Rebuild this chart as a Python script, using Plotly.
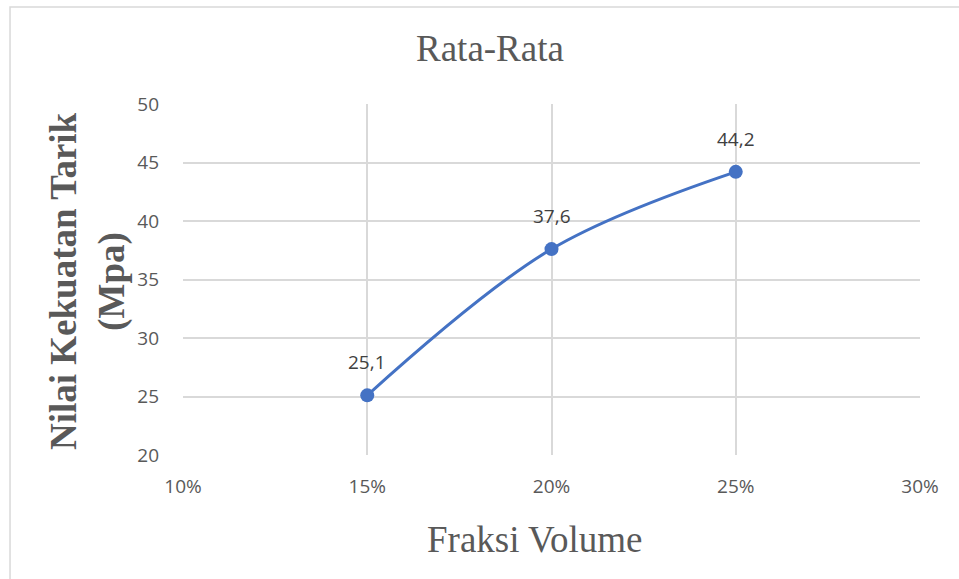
import plotly.graph_objects as go

# Volume fraction (%) vs. average tensile strength (MPa)
fraksi = [15, 20, 25]
kekuatan = [25.1, 37.6, 44.2]
x_ticks = [10, 15, 20, 25, 30]
x_tick_text = ["10%", "15%", "20%", "25%", "30%"]
y_ticks = [20, 25, 30, 35, 40, 45, 50]

BLUE = "#4472C4"
GRAY = "#595959"
GRID = "#D9D9D9"
SERIF = "Liberation Serif, Times New Roman, serif"
SANS = "Open Sans, Liberation Sans, sans-serif"

fig = go.Figure()
fig.add_trace(go.Scatter(
    x=fraksi, y=kekuatan, mode="lines+markers",
    line=dict(color=BLUE, width=3, shape="spline", smoothing=1.0),
    marker=dict(color=BLUE, size=14),
    hoverinfo="x+y", showlegend=False,
))

annotations = []
for xv, yv in zip(fraksi, kekuatan):
    annotations.append(dict(
        x=xv, y=yv, xref="x", yref="y", showarrow=False, yshift=33,
        text=f"{yv:.1f}".replace(".", ","),
        font=dict(family=SANS, size=19, color="#404040"),
    ))

annotations += [
    dict(text="Rata-Rata", xref="paper", yref="paper", x=0.4166, y=1.1595,
         xanchor="center", yanchor="middle", showarrow=False,
         font=dict(family=SERIF, size=37, color=GRAY)),
    dict(text="Fraksi Volume", xref="paper", yref="paper", x=0.4776, y=-0.242,
         xanchor="center", yanchor="middle", showarrow=False,
         font=dict(family=SERIF, size=37, color=GRAY)),
    dict(text="<b>Nilai Kekuatan Tarik<br>(Mpa)</b>", xref="paper", yref="paper",
         x=-0.1289, y=0.4957, xanchor="center", yanchor="middle",
         showarrow=False, textangle=-90,
         font=dict(family=SERIF, size=37, color=GRAY)),
]

fig.update_layout(
    width=959, height=579,
    margin=dict(l=183, r=39, t=104, b=124),
    paper_bgcolor="white", plot_bgcolor="white",
    annotations=annotations,
    shapes=[dict(type="rect", xref="paper", yref="paper",
                 x0=-0.2347, x1=1.2, y0=-0.5, y1=1.2764,
                 line=dict(color=GRID, width=1.5), layer="below")],
    xaxis=dict(range=[10, 30], tickvals=x_ticks, ticktext=x_tick_text,
               showgrid=True, gridcolor=GRID, gridwidth=1.5, zeroline=False,
               showline=False, ticks="", ticklabelstandoff=18,
               tickfont=dict(family=SANS, size=19, color=GRAY)),
    yaxis=dict(range=[20, 50], tickvals=y_ticks,
               showgrid=True, gridcolor=GRID, gridwidth=1.5, zeroline=False,
               showline=False, ticks="", ticklabelstandoff=23,
               tickfont=dict(family=SANS, size=19, color=GRAY)),
)

fig.write_html("out.html")
